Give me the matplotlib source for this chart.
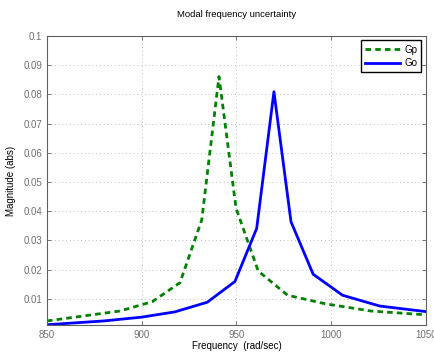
import numpy as np
import matplotlib
matplotlib.use('Agg')
import matplotlib.pyplot as plt

plt.rcParams['font.family'] = ['Liberation Sans', 'DejaVu Sans']

# frequency response magnitudes
freq_gp = [850, 888.5, 905.6, 920.2, 931.7, 940.8, 949.8, 961.5, 977, 996.7, 1021, 1050]
mag_gp = [0.0024, 0.0058, 0.0090, 0.0155, 0.037, 0.0861, 0.041, 0.0195, 0.0112, 0.0083, 0.0058, 0.0045]

freq_go = [850, 880, 900, 917.5, 934.6, 949.2, 960.7, 969.8, 978.8, 990.5, 1006, 1025.7, 1050]
mag_go = [0.0011, 0.0024, 0.0037, 0.0055, 0.0088, 0.0159, 0.0341, 0.0809, 0.0364, 0.0184, 0.0112, 0.0075, 0.0056]

xticks = [850, 900, 950, 1000, 1050]
yticks = [0.01, 0.02, 0.03, 0.04, 0.05, 0.06, 0.07, 0.08, 0.09, 0.1]

fig = plt.figure(figsize=(4.35, 3.56), dpi=100)
ax = fig.add_axes([0.108, 0.087, 0.871, 0.812])

ax.plot(freq_gp, mag_gp, color='#008000', lw=2, linestyle=(0, (2.0, 1.5)), label='Gp')
ax.plot(freq_go, mag_go, color='#0000ff', lw=2, label='Go')

ax.set_xlim(850, 1050)
ax.set_ylim(0.001, 0.1)
ax.set_xticks(xticks)
ax.set_xticklabels([str(t) for t in xticks])
ax.set_yticks(yticks)
ax.set_yticklabels([('%g' % t) for t in yticks])

ax.grid(True, linestyle=(0, (1, 3.5)), color='#aaaaaa', linewidth=0.6)
ax.tick_params(direction='in', labelsize=7, labelcolor='#707070', color='#606060',
               length=3, width=0.6, top=True, right=True)
for s in ax.spines.values():
    s.set_color('#606060')
    s.set_linewidth(0.8)

ax.set_title('Modal frequency uncertainty', fontsize=6.8, pad=14)
ax.set_xlabel('Frequency  (rad/sec)', fontsize=7, labelpad=1)
ax.set_ylabel('Magnitude (abs)', fontsize=7, labelpad=5)

leg = ax.legend(loc='upper right', fontsize=7, fancybox=False, framealpha=1,
                edgecolor='black', handlelength=3.6, borderpad=0.45,
                labelspacing=0.35, handletextpad=0.4, borderaxespad=0.45)
leg.get_frame().set_linewidth(1.0)

fig.savefig('out.png', dpi=100)
